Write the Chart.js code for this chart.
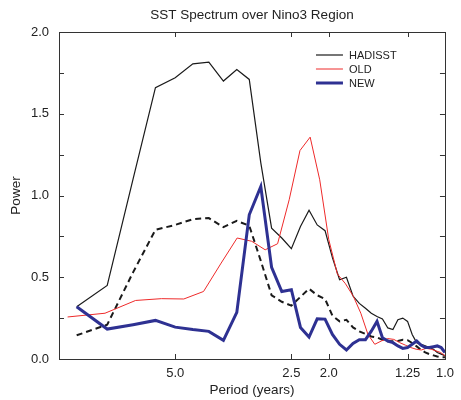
<html>
<head>
<meta charset="utf-8">
<script src="https://cdn.jsdelivr.net/npm/chart.js@4/dist/chart.umd.min.js"></script>
<title>SST Spectrum over Nino3 Region</title>
<style>
  body { margin: 0; background: #fff; }
</style>
</head>
<body>
<canvas id="spectrum" width="461" height="400"></canvas>
<script>
// periods (years) of the 45-year record harmonics: HADISST, NEW and dashed curve
const periods45 = [9.000, 7.500, 6.429, 5.625, 5.000, 4.500, 4.091, 3.750, 3.462, 3.214,
  3.000, 2.813, 2.647, 2.500, 2.368, 2.250, 2.143, 2.045, 1.957, 1.875,
  1.800, 1.731, 1.667, 1.607, 1.552, 1.500, 1.452, 1.406, 1.364, 1.324,
  1.286, 1.250, 1.216, 1.184, 1.154, 1.125, 1.098, 1.071, 1.047, 1.023, 1.000];
// periods of the 38-year record harmonics: OLD
const periods38 = [9.500, 7.600, 6.333, 5.429, 4.750, 4.222, 3.800, 3.455, 3.167, 2.923,
  2.714, 2.533, 2.375, 2.235, 2.111, 2.000, 1.900, 1.810, 1.727, 1.652,
  1.583, 1.520, 1.462, 1.407, 1.357, 1.310, 1.267, 1.226, 1.188, 1.152,
  1.118, 1.086, 1.056, 1.027, 1.000];

const hadisst = [0.32, 0.45, 1.10, 1.66, 1.72, 1.805, 1.815, 1.70, 1.77, 1.71,
  1.20, 0.80, 0.74, 0.675, 0.81, 0.91, 0.82, 0.785, 0.62, 0.485,
  0.50, 0.385, 0.34, 0.31, 0.28, 0.26, 0.245, 0.19, 0.18, 0.24,
  0.25, 0.23, 0.15, 0.10, 0.09, 0.08, 0.07, 0.06, 0.04, 0.03, 0.02];
const hadisstDashed = [0.145, 0.21, 0.53, 0.79, 0.82, 0.855, 0.862, 0.807, 0.845, 0.815,
  0.60, 0.39, 0.35, 0.326, 0.38, 0.43, 0.39, 0.367, 0.265, 0.23,
  0.24, 0.193, 0.169, 0.153, 0.138, 0.132, 0.118, 0.108, 0.108, 0.11,
  0.118, 0.115, 0.098, 0.077, 0.057, 0.04, 0.03, 0.022, 0.015, 0.01, 0.01];
const newRun = [0.32, 0.183, 0.21, 0.236, 0.195, 0.18, 0.169, 0.114, 0.285, 0.882,
  1.055, 0.56, 0.413, 0.424, 0.193, 0.134, 0.246, 0.244, 0.15, 0.09,
  0.055, 0.095, 0.118, 0.118, 0.17, 0.23, 0.13, 0.11, 0.10, 0.08,
  0.065, 0.07, 0.09, 0.11, 0.085, 0.07, 0.07, 0.075, 0.08, 0.07, 0.04];
const oldRun = [0.257, 0.28, 0.358, 0.369, 0.367, 0.413, 0.587, 0.74, 0.72, 0.668,
  0.705, 0.974, 1.275, 1.357, 1.096, 0.73, 0.52, 0.46, 0.383, 0.28,
  0.15, 0.09, 0.11, 0.125, 0.12, 0.10, 0.085, 0.07, 0.06, 0.055,
  0.065, 0.06, 0.05, 0.04, 0.02];

const xTickValues = [5, 2.5, 2, 1.25, 1];
const xTickLabels = ['5.0', '2.5', '2.0', '1.25', '1.0'];

const TITLE = 'SST Spectrum over Nino3 Region';
const FONT = "'Liberation Sans', Arial, Helvetica, sans-serif";
const INK = '#222';

function toPoints(xs, ys) {
  return xs.map((x, i) => ({ x: x, y: ys[i] }));
}

// inward tick marks on all four sides plus the closed frame
const frameTicks = {
  id: 'frameTicks',
  afterDraw(chart) {
    const { ctx, chartArea: a } = chart;
    const sx = chart.scales.x, sy = chart.scales.y;
    const len = 5;
    ctx.save();
    ctx.strokeStyle = '#333';
    ctx.lineWidth = 1;
    ctx.beginPath();
    sx.ticks.forEach(t => {
      const px = Math.round(sx.getPixelForValue(t.value)) + 0.5;
      ctx.moveTo(px, a.bottom); ctx.lineTo(px, a.bottom - len);
      ctx.moveTo(px, a.top); ctx.lineTo(px, a.top + len);
    });
    sy.ticks.forEach(t => {
      const py = Math.round(sy.getPixelForValue(t.value)) + 0.5;
      ctx.moveTo(a.left, py); ctx.lineTo(a.left + len, py);
      ctx.moveTo(a.right, py); ctx.lineTo(a.right - len, py);
    });
    ctx.stroke();
    ctx.strokeRect(Math.round(a.left) + 0.5, Math.round(a.top) + 0.5,
      Math.round(a.right - a.left), Math.round(a.bottom - a.top));
    ctx.restore();
  }
};

// title centred over the plot box rather than the whole canvas
const plotTitle = {
  id: 'plotTitle',
  afterDraw(chart) {
    const { ctx, chartArea: a } = chart;
    ctx.save();
    ctx.font = '13.5px ' + FONT;
    ctx.fillStyle = INK;
    ctx.textAlign = 'center';
    ctx.textBaseline = 'middle';
    ctx.fillText(TITLE, (a.left + a.right) / 2, 15);
    ctx.restore();
  }
};

// legend drawn inside the plot, top right
const innerLegend = {
  id: 'innerLegend',
  afterDraw(chart) {
    const { ctx, chartArea: a } = chart;
    const items = chart.data.datasets.filter(d => d.label);
    const order = ['HADISST', 'OLD', 'NEW'];
    const x0 = a.right - 129, y0 = a.top + 23;
    ctx.save();
    ctx.font = '11px ' + FONT;
    ctx.textBaseline = 'middle';
    ctx.fillStyle = INK;
    order.forEach((name, i) => {
      const d = items.find(it => it.label === name);
      const y = y0 + i * 14;
      ctx.strokeStyle = d.borderColor;
      ctx.lineWidth = d.borderWidth;
      ctx.beginPath();
      ctx.moveTo(x0, y); ctx.lineTo(x0 + 27, y);
      ctx.stroke();
      ctx.fillText(name, x0 + 33, y + 0.5);
    });
    ctx.restore();
  }
};

new Chart(document.getElementById('spectrum'), {
  type: 'line',
  data: {
    datasets: [
      { label: 'NEW', data: toPoints(periods45, newRun), borderColor: '#2e3192', borderWidth: 3 },
      { label: 'OLD', data: toPoints(periods38, oldRun), borderColor: '#ee2a2a', borderWidth: 1 },
      { label: 'HADISST', data: toPoints(periods45, hadisst), borderColor: '#1a1a1a', borderWidth: 1.2 },
      { label: '', data: toPoints(periods45, hadisstDashed), borderColor: '#1a1a1a', borderWidth: 2, borderDash: [6, 4] }
    ]
  },
  options: {
    responsive: false,
    animation: false,
    layout: { padding: { left: 0, right: 10, top: 32, bottom: 0 } },
    elements: {
      point: { radius: 0 },
      line: { tension: 0, fill: false, borderJoinStyle: 'miter' }
    },
    plugins: {
      legend: { display: false },
      tooltip: { enabled: false },
      title: { display: false }
    },
    scales: {
      x: {
        type: 'logarithmic',
        reverse: true,
        min: 1,
        max: 10,
        afterBuildTicks(scale) {
          scale.ticks = xTickValues.map(v => ({ value: v }));
        },
        afterFit(scale) { scale.height = 41; },
        grid: { display: false, drawTicks: false },
        border: { display: false },
        ticks: {
          autoSkip: false,
          maxRotation: 0,
          padding: 7,
          color: INK,
          font: { family: FONT, size: 13 },
          callback: (v, i) => xTickLabels[i]
        },
        title: {
          display: true,
          text: 'Period (years)',
          color: INK,
          font: { family: FONT, size: 13.5 },
          padding: { top: 0, bottom: 2 }
        }
      },
      y: {
        min: 0,
        max: 2,
        afterFit(scale) { scale.width = 59; },
        grid: { display: false, drawTicks: false },
        border: { display: false },
        ticks: {
          stepSize: 0.25,
          padding: 10,
          color: INK,
          font: { family: FONT, size: 13 },
          callback: v => (Math.abs(v * 2 - Math.round(v * 2)) < 1e-6 ? v.toFixed(1) : '')
        },
        title: {
          display: true,
          text: 'Power',
          color: INK,
          font: { family: FONT, size: 13.5 },
          padding: { top: 8, bottom: 0 }
        }
      }
    }
  },
  plugins: [frameTicks, plotTitle, innerLegend]
});
</script>
</body>
</html>
